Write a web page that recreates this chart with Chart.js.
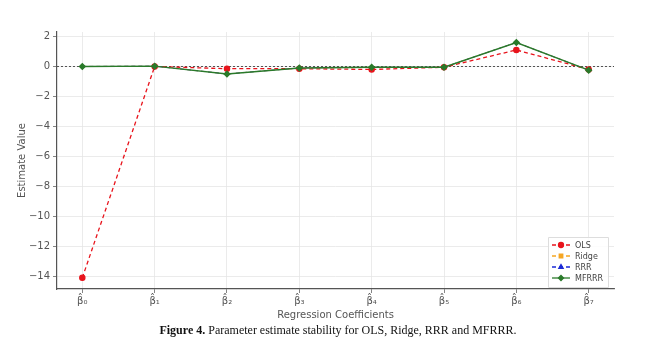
<!DOCTYPE html>
<html>
<head>
<meta charset="utf-8">
<script src="https://cdn.jsdelivr.net/npm/chart.js@4.4.0/dist/chart.umd.min.js"></script>
<style>
  body { margin: 0; background: #fff; width: 648px; height: 360px; position: relative; overflow: hidden; }
  #wrap { position: absolute; left: 0; top: 0; width: 648px; height: 325px; }
  #caption { position: absolute; left: 0; width: 648px; top: 323px; text-align: center;
    font-family: "Liberation Serif", "Times New Roman", serif; font-size: 12px; color: #111; padding-left: 28px; box-sizing: border-box; }
</style>
</head>
<body>
<div id="wrap"><canvas id="chart" width="648" height="325"></canvas></div>
<div id="caption"><b>Figure 4.</b> Parameter estimate stability for OLS, Ridge, RRR and MFRRR.</div>
<script>
// coefficient labels (beta-hat 0..7)
const coefLabels = ['β̂₀', 'β̂₁', 'β̂₂', 'β̂₃', 'β̂₄', 'β̂₅', 'β̂₆', 'β̂₇'];
const yTicks = [-14, -12, -10, -8, -6, -4, -2, 0, 2];

// estimates
const olsVals   = [-14.1, 0.0, -0.15, -0.15, -0.2, -0.05, 1.1, -0.2];
const ridgeVals = [0.0, 0.02, -0.5, -0.1, -0.05, -0.05, 1.6, -0.25];
const rrrVals   = [0.0, 0.02, -0.5, -0.1, -0.05, -0.05, 1.6, -0.25];
const mfrrrVals = [0.0, 0.02, -0.5, -0.1, -0.05, -0.05, 1.6, -0.25];

const toPts = vals => vals.map((v, i) => ({ x: i, y: v }));

const axisFont = { family: 'DejaVu Sans', size: 10 };

// dotted zero reference line
const zeroLine = {
    id: 'zeroLine',
    beforeDatasetsDraw(chart) {
        const { ctx, chartArea, scales } = chart;
        const y = scales.y.getPixelForValue(0);
        ctx.save();
        ctx.strokeStyle = '#444';
        ctx.lineWidth = 0.9;
        ctx.setLineDash([2, 2]);
        ctx.beginPath();
        ctx.moveTo(chartArea.left, y);
        ctx.lineTo(chartArea.right, y);
        ctx.stroke();
        ctx.restore();
    }
};

// matplotlib style legend in the lower right corner
const mplLegend = {
    id: 'mplLegend',
    afterDraw(chart) {
        const { ctx, chartArea } = chart;
        const sets = chart.data.datasets;
        const w = 60, rowH = 11, h = sets.length * rowH + 6;
        const x0 = chartArea.right - w - 6, y0 = chartArea.bottom - h - 2;
        ctx.save();
        ctx.fillStyle = 'rgba(255,255,255,0.85)';
        ctx.strokeStyle = '#ddd';
        ctx.lineWidth = 1;
        ctx.beginPath();
        ctx.rect(x0 + 0.5, y0 + 0.5, w, h);
        ctx.fill();
        ctx.stroke();
        sets.forEach((ds, i) => {
            const cy = y0 + 8 + i * rowH;
            ctx.strokeStyle = ds.borderColor;
            ctx.lineWidth = 1.3;
            ctx.setLineDash(ds.borderDash.length ? [4, 3] : []);
            ctx.beginPath();
            ctx.moveTo(x0 + 4, cy);
            ctx.lineTo(x0 + 22, cy);
            ctx.stroke();
            ctx.setLineDash([]);
            ctx.fillStyle = ds.borderColor;
            Chart.helpers.drawPoint(ctx, { pointStyle: ds.pointStyle, radius: 2.5, borderWidth: 1 }, x0 + 13, cy);
            ctx.fillStyle = '#444';
            ctx.font = '8px "DejaVu Sans"';
            ctx.textBaseline = 'middle';
            ctx.fillText(ds.label, x0 + 27, cy + 0.5);
        });
        ctx.restore();
    }
};

const mkSet = (label, vals, color, style, dash, r, w, order) => ({
    label: label,
    data: toPts(vals),
    borderColor: color,
    backgroundColor: color,
    borderWidth: w,
    borderDash: dash,
    pointStyle: style,
    pointRadius: r,
    pointHoverRadius: r,
    tension: 0,
    order: order,
});

new Chart(document.getElementById('chart'), {
    type: 'line',
    data: {
        datasets: [
            mkSet('OLS', olsVals, '#e8141c', 'circle', [4, 3], 2.6, 1.3, 1),
            mkSet('Ridge', ridgeVals, '#f5a623', 'rect', [4, 3], 1.4, 0.8, 3),
            mkSet('RRR', rrrVals, '#1c2bd6', 'triangle', [4, 3], 1.4, 0.8, 2),
            mkSet('MFRRR', mfrrrVals, '#2a7a2a', 'rectRot', [], 2.8, 1.4, 0),
        ],
    },
    options: {
        responsive: false,
        animation: false,
        layout: { padding: { top: 32, right: 34, left: 0, bottom: 0 } },
        plugins: { legend: { display: false }, tooltip: { enabled: false } },
        scales: {
            x: {
                type: 'linear',
                min: -0.35,
                max: 7.35,
                afterBuildTicks: s => { s.ticks = coefLabels.map((_, i) => ({ value: i })); },
                afterFit: s => { s.height = 36; },
                ticks: {
                    callback: v => coefLabels[v],
                    font: { family: 'DejaVu Sans', size: 10 },
                    color: '#555',
                    padding: 2,
                    maxRotation: 0,
                },
                grid: { color: '#e6e6e6', tickColor: '#666', tickLength: 4, lineWidth: 0.8 },
                border: { color: '#555', width: 1.2 },
                title: { display: true, text: 'Regression Coefficients', font: { family: 'DejaVu Sans', size: 10 }, color: '#555', padding: { top: 0 } },
            },
            y: {
                min: -14.85,
                max: 2.3,
                afterBuildTicks: s => { s.ticks = yTicks.map(v => ({ value: v })); },
                afterFit: s => { s.width = 57; },
                ticks: {
                    callback: v => String(v).replace('-', '\u2212'),
                    font: axisFont,
                    color: '#555',
                    padding: 3,
                },
                grid: { color: '#e6e6e6', tickColor: '#666', tickLength: 4, lineWidth: 0.8 },
                border: { color: '#555', width: 1.2 },
                title: { display: true, text: 'Estimate Value', font: { family: 'DejaVu Sans', size: 10 }, color: '#555', padding: { top: 16, bottom: 4 } },
            },
        },
    },
    plugins: [zeroLine, mplLegend],
});
</script>
</body>
</html>
